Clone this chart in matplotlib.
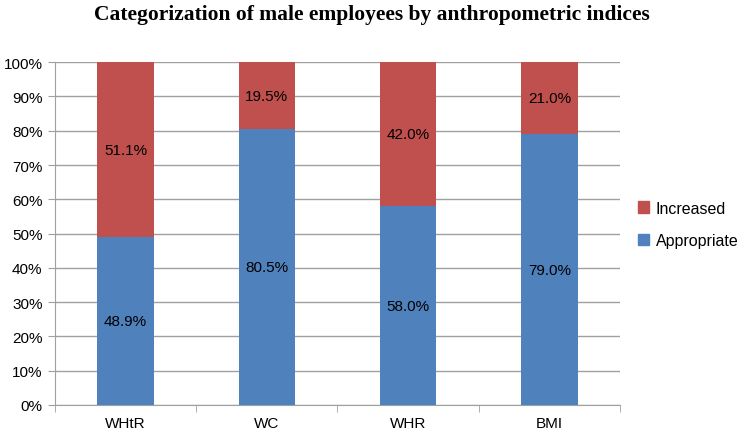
import matplotlib
matplotlib.use("Agg")
from matplotlib import pyplot as plt
from matplotlib.patches import Patch

categories = ["WHtR", "WC", "WHR", "BMI"]
appropriate = [48.9, 80.5, 58.0, 79.0]
increased = [51.1, 19.5, 42.0, 21.0]

blue = "#4F81BD"
red = "#C0504D"

plt.rcParams['font.family'] = ['Liberation Sans', 'DejaVu Sans']

fig = plt.figure(figsize=(7.4, 4.35), dpi=100)
ax = fig.add_axes([0.0743, 0.0667, 0.7635, 0.788])

x = list(range(len(categories)))
ax.bar(x, appropriate, width=0.4, color=blue, zorder=3)
ax.bar(x, increased, width=0.4, bottom=appropriate, color=red, zorder=3)

for i in x:
    ax.text(i, appropriate[i] / 2, f"{appropriate[i]:.1f}%", ha="center", va="center", fontsize=11, zorder=4)
    ax.text(i, appropriate[i] + increased[i] / 2, f"{increased[i]:.1f}%", ha="center", va="center", fontsize=11, zorder=4)

ax.set_xlim(-0.5, len(categories) - 0.5)
ax.set_ylim(0, 100)
ax.set_yticks(range(0, 101, 10))
ax.set_yticklabels([f"{v}%" for v in range(0, 101, 10)], fontsize=11)
ax.yaxis.grid(True, color="#A0A0A0", linewidth=1, zorder=0)

ax.set_xticks(x)
ax.set_xticklabels(categories, fontsize=11)
ax.tick_params(axis="x", length=0, pad=8)
# category boundary ticks
ax.set_xticks([i - 0.5 for i in range(len(categories) + 1)], minor=True)
ax.tick_params(axis="x", which="minor", length=5, color="#A0A0A0", direction="out")
ax.tick_params(axis="y", length=5, color="#A0A0A0", direction="out", pad=4)

for s in ["top", "right"]:
    ax.spines[s].set_visible(False)
ax.spines["left"].set_color("#A0A0A0")
ax.spines["bottom"].set_color("#A0A0A0")

handles = [Patch(color=red, label="Increased"), Patch(color=blue, label="Appropriate")]
fig.legend(handles=handles, loc="center left", bbox_to_anchor=(0.843, 0.482), frameon=False,
           fontsize=11.5, handlelength=0.7, handleheight=0.7, handletextpad=0.4, labelspacing=1.1)

fig.text(0.502, 0.965, "Categorization of male employees by anthropometric indices",
         ha="center", va="center", fontsize=15.5, fontweight="bold", family="Liberation Serif")

fig.savefig("out.png", dpi=100)
